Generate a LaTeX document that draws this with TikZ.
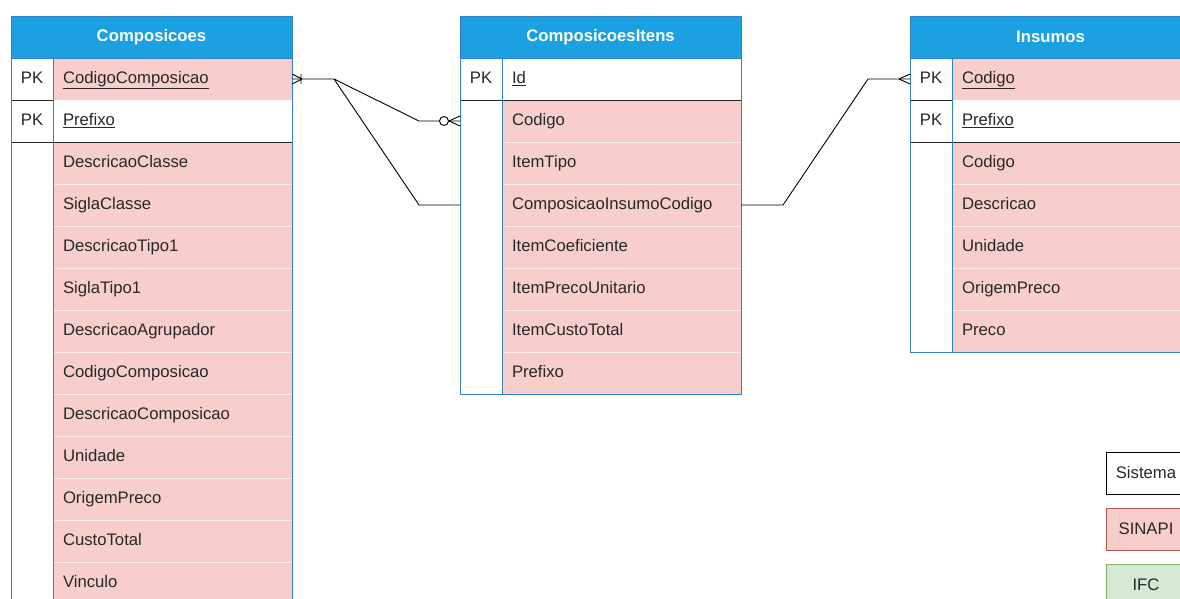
\documentclass[tikz,border=0pt]{standalone}
\usepackage{fontspec}
\setmainfont{Liberation Sans}
\usetikzlibrary{positioning, calc}
\definecolor{erHead}{RGB}{27, 161, 226}
\definecolor{erEdge}{RGB}{48, 130, 196}
\definecolor{erText}{RGB}{40, 40, 40}
\definecolor{sinapiFg}{RGB}{184, 84, 80}
\definecolor{sinapiBg}{RGB}{248, 206, 204}
\definecolor{ifcFg}{RGB}{130, 179, 102}
\definecolor{ifcBg}{RGB}{213, 232, 212}
\newcommand{\erfont}{\fontsize{16.7}{19}\selectfont}
\tikzstyle{link} = [line width=0.9pt, black]
\tikzstyle{edge} = [line width=1pt, draw=erEdge]
\tikzstyle{keyline} = [line width=0.9pt, draw=black!85]
\tikzstyle{head} = [rectangle, minimum width=281pt, minimum height=42pt, inner sep=0pt, outer sep=0pt, anchor=north west, draw=erEdge, fill=erHead, text=white, font=\erfont\bfseries]
\tikzstyle{keycol} = [rectangle, minimum width=42pt, minimum height=42pt, inner sep=0pt, outer sep=0pt, anchor=north west, fill=white, text=erText, font=\erfont, text height=12pt, text depth=3.5pt]
\tikzstyle{field} = [rectangle, minimum height=42pt, text width=219pt, inner xsep=10pt, inner ysep=0pt, outer sep=0pt, align=left, anchor=north west, text=erText, font=\erfont, text height=12pt, text depth=3.5pt]
\tikzstyle{pinkfield} = [field, fill=sinapiBg, draw=white!65!sinapiBg, line width=0.8pt]
\tikzstyle{whitefield} = [field, fill=white]
\tikzstyle{legend} = [rectangle, minimum width=80pt, minimum height=42pt, inner sep=0pt, outer sep=0pt, anchor=north west, line width=1pt, text=erText, font=\erfont]

\begin{document}
\begin{tikzpicture}[x=1pt, y=-1pt]
\useasboundingbox (0,0) rectangle (1180,598);
\clip (0,0) rectangle (1180,598);
\fill [white] (0,0) rectangle (1180,598);

% Composicoes
\node (c_head) [head] at (11,16) {Composicoes};
\node (c_k1) [keycol] at (c_head.south west) {PK};
\node (c_pk1) [pinkfield] at (c_k1.north east) {\underline{CodigoComposicao}};
\node (c_k2) [keycol] at (c_k1.south west) {PK};
\node (c_pk2) [whitefield] at (c_k2.north east) {\underline{Prefixo}};
\node (c_f1) [pinkfield] at (c_pk2.south west) {DescricaoClasse};
\node (c_f2) [pinkfield] at (c_f1.south west) {SiglaClasse};
\node (c_f3) [pinkfield] at (c_f2.south west) {DescricaoTipo1};
\node (c_f4) [pinkfield] at (c_f3.south west) {SiglaTipo1};
\node (c_f5) [pinkfield] at (c_f4.south west) {DescricaoAgrupador};
\node (c_f6) [pinkfield] at (c_f5.south west) {CodigoComposicao};
\node (c_f7) [pinkfield] at (c_f6.south west) {DescricaoComposicao};
\node (c_f8) [pinkfield] at (c_f7.south west) {Unidade};
\node (c_f9) [pinkfield] at (c_f8.south west) {OrigemPreco};
\node (c_f10) [pinkfield] at (c_f9.south west) {CustoTotal};
\node (c_f11) [pinkfield] at (c_f10.south west) {Vinculo};
\draw [keyline] (c_k1.south west) -- (c_k1.south east);
\draw [keyline] (c_k2.south west) -- (c_pk2.south east);
\draw [edge] (c_k1.north east) -- (c_k1.north east |- c_f11.south);
\draw [edge] (c_head.south west) -- (c_head.south east);
\draw [edge] (c_head.north west) rectangle (c_f11.south east);

% ComposicoesItens
\node (ci_head) [head] at (460,16) {ComposicoesItens};
\node (ci_k1) [keycol] at (ci_head.south west) {PK};
\node (ci_pk1) [whitefield] at (ci_k1.north east) {\underline{Id}};
\node (ci_f1) [pinkfield] at (ci_pk1.south west) {Codigo};
\node (ci_f2) [pinkfield] at (ci_f1.south west) {ItemTipo};
\node (ci_f3) [pinkfield] at (ci_f2.south west) {ComposicaoInsumoCodigo};
\node (ci_f4) [pinkfield] at (ci_f3.south west) {ItemCoeficiente};
\node (ci_f5) [pinkfield] at (ci_f4.south west) {ItemPrecoUnitario};
\node (ci_f6) [pinkfield] at (ci_f5.south west) {ItemCustoTotal};
\node (ci_f7) [pinkfield] at (ci_f6.south west) {Prefixo};
\draw [keyline] (ci_k1.south west) -- (ci_pk1.south east);
\draw [edge] (ci_k1.north east) -- (ci_k1.north east |- ci_f7.south);
\draw [edge] (ci_head.south west) -- (ci_head.south east);
\draw [edge] (ci_head.north west) rectangle (ci_f7.south east);

% Insumos
\node (i_head) [head] at (910,16) {Insumos};
\node (i_k1) [keycol] at (i_head.south west) {PK};
\node (i_pk1) [pinkfield] at (i_k1.north east) {\underline{Codigo}};
\node (i_k2) [keycol] at (i_k1.south west) {PK};
\node (i_pk2) [whitefield] at (i_k2.north east) {\underline{Prefixo}};
\node (i_f1) [pinkfield] at (i_pk2.south west) {Codigo};
\node (i_f2) [pinkfield] at (i_f1.south west) {Descricao};
\node (i_f3) [pinkfield] at (i_f2.south west) {Unidade};
\node (i_f4) [pinkfield] at (i_f3.south west) {OrigemPreco};
\node (i_f5) [pinkfield] at (i_f4.south west) {Preco};
\draw [keyline] (i_k1.south west) -- (i_k1.south east);
\draw [keyline] (i_k2.south west) -- (i_pk2.south east);
\draw [edge] (i_k1.north east) -- (i_k1.north east |- i_f5.south);
\draw [edge] (i_head.south west) -- (i_head.south east);
\draw [edge] (i_head.north west) rectangle (i_f5.south east);

% relations
\draw [link] (c_pk1.east) -- ++(42,0) coordinate (fork)
  -- ($(ci_f1.west -| ci_head.west) + (-41,0)$) -- (ci_f1.west -| ci_head.west);
\draw [link] (fork) -- ($(ci_f3.west -| ci_head.west) + (-41,0)$) -- (ci_f3.west -| ci_head.west);
\draw [link] (ci_f3.east) -- ++(42,0) -- ($(i_k1.west) + (-42,0)$) -- (i_k1.west);

% end marks
\draw [link] ($(c_pk1.east) + (10,0)$) -- ($(c_pk1.east) + (0,-5)$)
  ($(c_pk1.east) + (10,0)$) -- ($(c_pk1.east) + (0,5)$)
  ($(c_pk1.east) + (9,-5)$) -- ($(c_pk1.east) + (9,5)$);
\coordinate (zm) at (ci_f1.west -| ci_head.west);
\draw [link] ($(zm) + (-11,0)$) -- ($(zm) + (0,-5)$)
  ($(zm) + (-11,0)$) -- ($(zm) + (0,5)$);
\draw [link, fill=white] ($(zm) + (-16,0)$) circle (4.5);
\draw [link] ($(i_k1.west) + (-11,0)$) -- ($(i_k1.west) + (0,-5)$)
  ($(i_k1.west) + (-11,0)$) -- ($(i_k1.west) + (0,5)$);

% legend
\node (lg_sys) [legend, draw=black, fill=white] at (1106,452) {Sistema};
\node (lg_sinapi) [legend, draw=sinapiFg, fill=sinapiBg, below=14pt of lg_sys] {SINAPI};
\node (lg_ifc) [legend, draw=ifcFg, fill=ifcBg, below=14pt of lg_sinapi] {IFC};

\end{tikzpicture}
\end{document}
